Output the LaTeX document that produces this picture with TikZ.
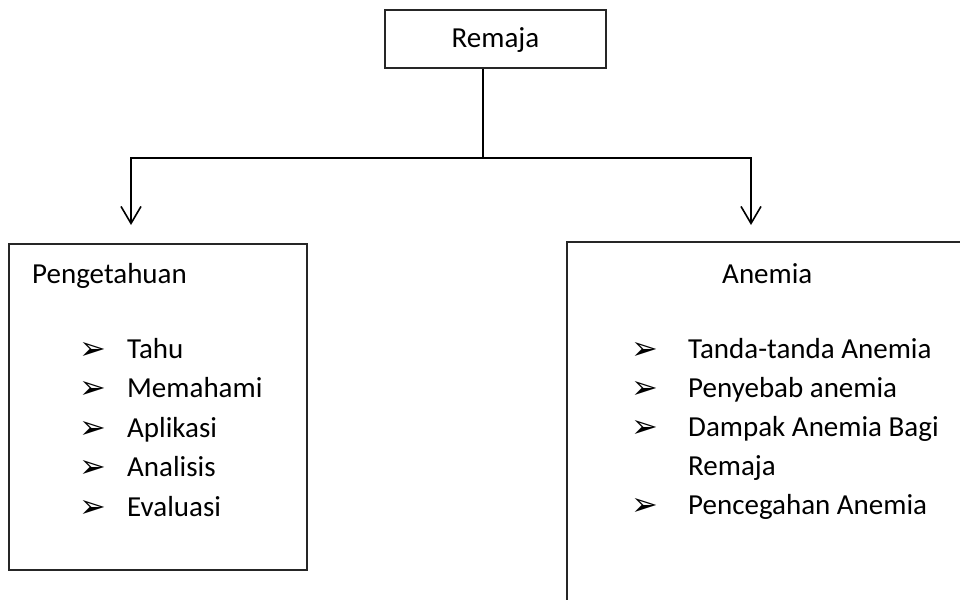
\documentclass[tikz,border=0pt]{standalone}
\usepackage{fontspec}
\setmainfont{Carlito}
\newfontfamily\symfont{DejaVu Sans}
\usetikzlibrary{arrows.meta}
\begin{document}
\begin{tikzpicture}[x=1pt,y=-1pt,
  box/.style={draw=black!85,line width=1.1pt,inner sep=0pt},
  lbl/.style={anchor=base west,inner sep=0pt,font=\fontsize{29}{34}\selectfont},
  blt/.style={anchor=base west,inner sep=0pt,font=\symfont\fontsize{32}{36}\selectfont},
  link/.style={line width=1.6pt},
  conn/.style={line width=1.6pt,-{Straight Barb[length=17pt,width=20pt,line width=1.6pt]}}]
\useasboundingbox (0,0) rectangle (960,599);
\clip (0,0) rectangle (960,599);
% top box
\node[box,minimum width=221pt,minimum height=58pt,text height=23.5pt,text depth=5.5pt,
      font=\fontsize{29}{34}\selectfont] (remaja) at (495.5,39) {Remaja};
% lower boxes
\node[box,minimum width=298pt,minimum height=326pt] (left) at (158,407) {};
\node[box,minimum width=433pt,minimum height=398pt] (right) at (783.5,441) {};
% connectors
\coordinate (j) at (483,158);
\coordinate (la) at (131,225);
\coordinate (ra) at (751,225);
\draw[link] (remaja.south -| j) -- (j);
\draw[conn] (j) -| (la);
\draw[conn] (j) -| (ra);
% left texts
\node[lbl] (peng) at (32,283) {Pengetahuan};
\node[blt] (lb1) at (79,359) {➢};
\node[lbl] (l1) at (127,358) {Tahu};
\node[blt] (lb2) at (79,398.5) {➢};
\node[lbl] (l2) at (127,397.5) {Memahami};
\node[blt] (lb3) at (79,438) {➢};
\node[lbl] (l3) at (127,437) {Aplikasi};
\node[blt] (lb4) at (79,477.5) {➢};
\node[lbl] (l4) at (127,476.5) {Analisis};
\node[blt] (lb5) at (79,517) {➢};
\node[lbl] (l5) at (127,516) {Evaluasi};
% right texts
\node[lbl] (anem) at (722,283) {Anemia};
\node[blt] (rb1) at (631,359) {➢};
\node[lbl] (r1) at (688,358) {Tanda-tanda Anemia};
\node[blt] (rb2) at (631,398) {➢};
\node[lbl] (r2) at (688,397) {Penyebab anemia};
\node[blt] (rb3) at (631,437) {➢};
\node[lbl] (r3) at (688,436) {Dampak Anemia Bagi};
\node[lbl] (r3b) at (688,475) {Remaja};
\node[blt] (rb4) at (631,515) {➢};
\node[lbl] (r4) at (688,514) {Pencegahan Anemia};
\end{tikzpicture}
\end{document}
